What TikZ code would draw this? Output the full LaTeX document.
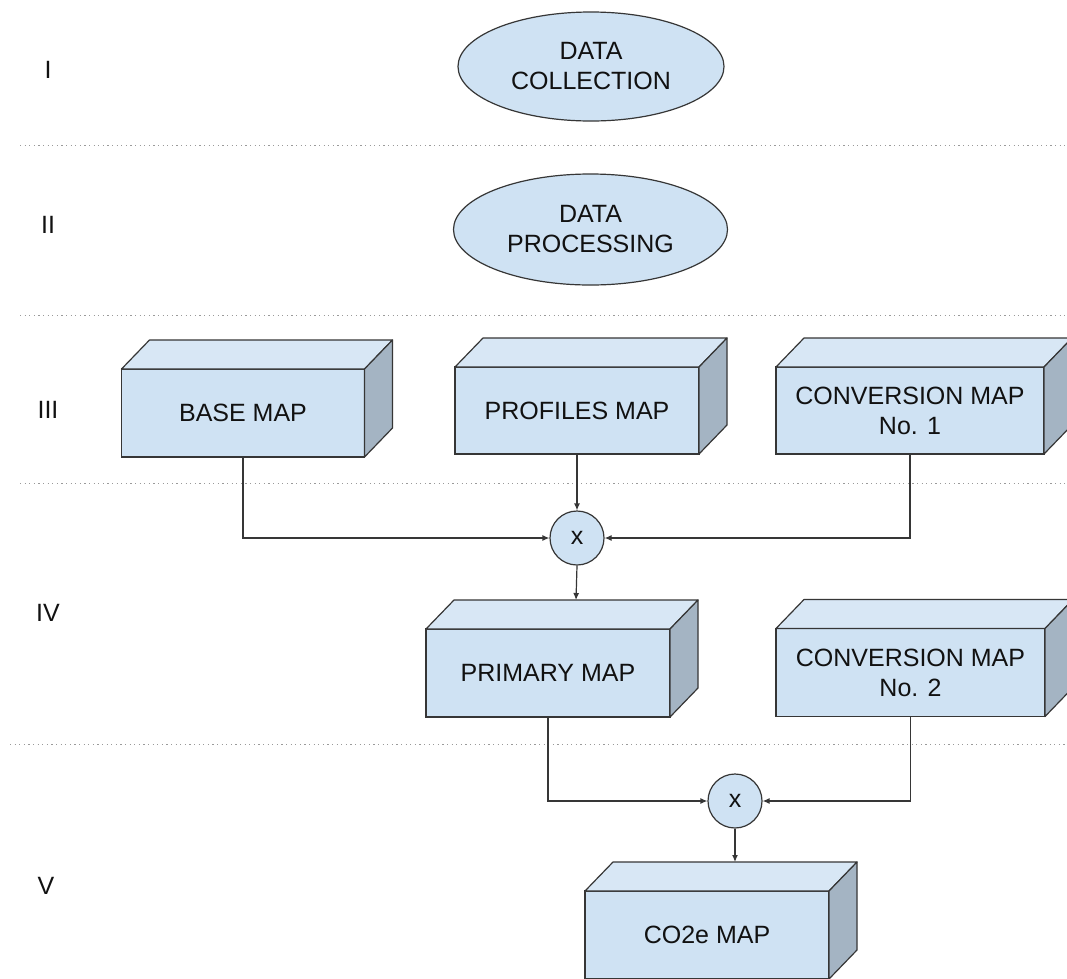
\documentclass[tikz,border=0pt]{standalone}
\usepackage{fontspec}
\setmainfont{Liberation Sans}
\usetikzlibrary{arrows.meta,shapes.geometric}

\definecolor{faceblue}{HTML}{CFE2F3}
\definecolor{topblue}{HTML}{D8E7F5}
\definecolor{sidegray}{HTML}{A4B4C3}
\definecolor{edge}{HTML}{363636}
\definecolor{ink}{HTML}{111111}
\definecolor{sep}{HTML}{9A9A9A}

\tikzset{
  base font/.style={font=\fontsize{25}{30}\selectfont, text=ink},
  oval/.style={ellipse, draw=edge, fill=faceblue, line width=1.2pt, inner sep=0pt,
    base font, align=center},
  mapface/.style={rectangle, draw=edge, fill=faceblue, line width=1.2pt, inner sep=0pt,
    outer sep=0pt, base font, align=center, minimum height=88pt},
  topface/.style={draw=edge, fill=topblue, line width=1.2pt, line join=round},
  sideface/.style={draw=edge, fill=sidegray, line width=1.2pt, line join=round},
  mult/.style={circle, draw=edge, fill=faceblue, line width=1.2pt, inner sep=0pt,
    minimum size=54pt, base font},
  conn/.style={draw=edge, line width=1.2pt, -{Latex[length=7pt,width=6pt]}},
  sepline/.style={draw=sep, line width=1pt, dash pattern=on 1.2pt off 3.4pt},
  rowlabel/.style={base font}
}

% top and right faces of a box whose front face is the node #1
\newcommand\boxdepth[1]{%
  \path[topface] (#1.north west) -- ([shift={(28,-29)}]#1.north west)
    -- ([shift={(28,-29)}]#1.north east) -- (#1.north east) -- cycle;
  \path[sideface] (#1.north east) -- ([shift={(28,-29)}]#1.north east)
    -- ([shift={(28,-29)}]#1.south east) -- (#1.south east) -- cycle;
}

\begin{document}
\begin{tikzpicture}[x=1pt,y=-1pt]
  \clip (0,0) rectangle (1067,978);
  \fill[white] (0,0) rectangle (1067,978);

  % section separators
  \draw[sepline] (20,145) -- (1067,145);
  \draw[sepline] (20,315) -- (1067,315);
  \draw[sepline] (20,483) -- (1067,483);
  \draw[sepline] (10,744) -- (1067,744);

  % stage numbers
  \node[rowlabel] (l1) at (48,70) {I};
  \node[rowlabel] (l2) at (48,225) {II};
  \node[rowlabel] (l3) at (48,410) {III};
  \node[rowlabel] (l4) at (48,613) {IV};
  \node[rowlabel] (l5) at (46,886) {V};

  % stages I and II
  \node[oval, minimum width=266pt, minimum height=109pt] (collect) at (591,66.5)
    {DATA\\COLLECTION};
  \node[oval, minimum width=274pt, minimum height=111pt] (process) at (590.5,229.5)
    {DATA\\PROCESSING};

  % stage III maps
  \node[mapface, minimum width=243pt] (base) at (243,413) {BASE MAP};
  \boxdepth{base}
  \node[mapface, minimum width=244pt, minimum height=87pt] (prof) at (577,410.5) {PROFILES MAP};
  \boxdepth{prof}
  \node[mapface, minimum width=268pt, minimum height=87pt] (conv1) at (910,410.5)
    {CONVERSION MAP\\No. 1};
  \boxdepth{conv1}

  % first product
  \node[mult] (m1) at (577,538) {x};

  % stage IV maps
  \node[mapface, minimum width=244pt] (primary) at (548,673) {PRIMARY MAP};
  \boxdepth{primary}
  \node[mapface, minimum width=269pt] (conv2) at (910.5,672.5)
    {CONVERSION MAP\\No. 2};
  \boxdepth{conv2}

  % second product
  \node[mult] (m2) at (735,801) {x};

  % stage V map
  \node[mapface, minimum width=244pt] (co2e) at (707,935) {CO2e MAP};
  \boxdepth{co2e}

  \coordinate (primarytop) at ([shift={(28,-29)}]primary.north);
  \coordinate (co2etop) at ([shift={(28,-29)}]co2e.north);

  % connectors
  \draw[conn] (base.south) |- (m1.west);
  \draw[conn] (prof.south) -- (m1.north);
  \draw[conn] (conv1.south) |- (m1.east);
  \draw[conn] (m1.south) -- (primarytop);
  \draw[conn] (primary.south) |- (m2.west);
  \draw[conn] (conv2.south) |- (m2.east);
  \draw[conn] (m2.south) -- (co2etop);
\end{tikzpicture}
\end{document}
